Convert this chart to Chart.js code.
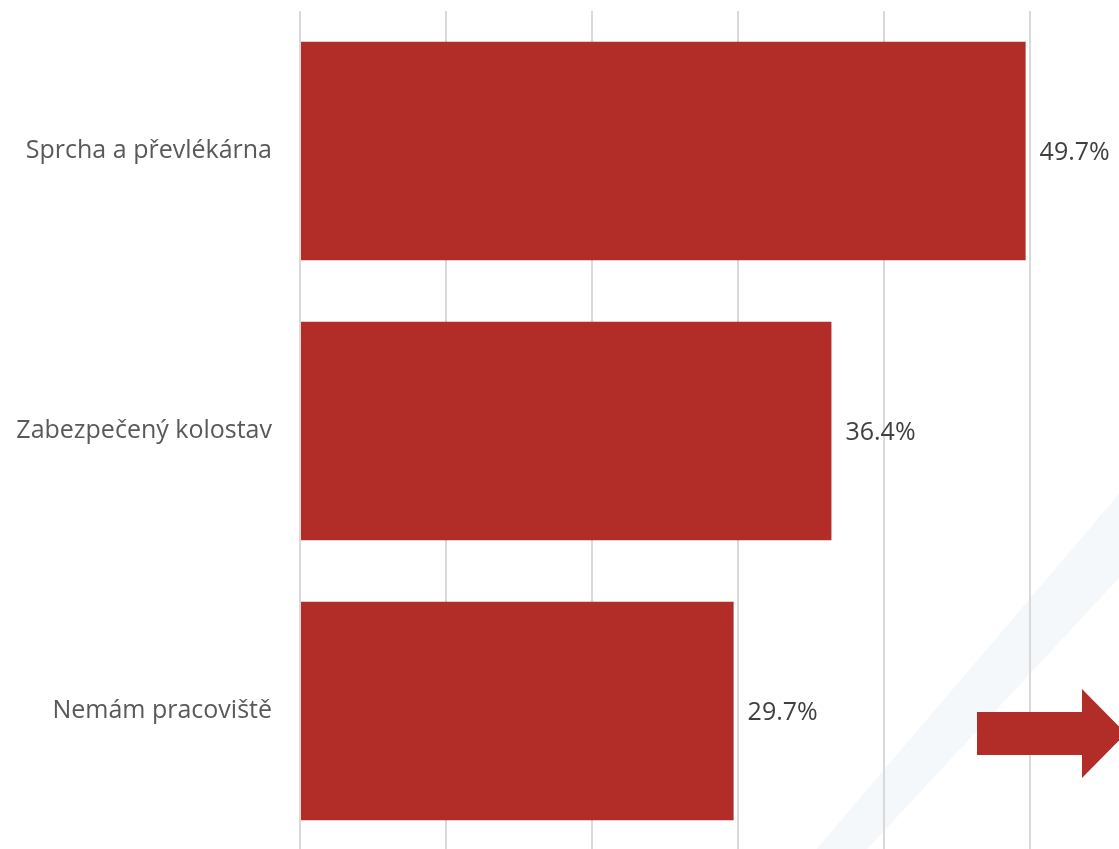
<!DOCTYPE html>
<html>
<head>
<meta charset="utf-8">
<script src="https://cdn.jsdelivr.net/npm/chart.js@4/dist/chart.umd.min.js"></script>
<style>
html,body{margin:0;padding:0;background:#fff;overflow:hidden;}
#wrap{position:relative;width:1119px;height:860px;}
</style>
</head>
<body>
<div id="wrap"><canvas id="c" width="1119" height="860"></canvas></div>
<script>
const categories = ["Sprcha a převlékárna", "Zabezpečený kolostav", "Nemám pracoviště"];
const values = [49.7, 36.4, 29.7];
const valueLabels = ["49.7%", "36.4%", "29.7%"];
const xTicks = [0, 10, 20, 30, 40, 50];

const FONT = "'Open Sans', 'Noto Sans', sans-serif";

const decoBack = {
  id: 'decoBack',
  beforeDraw(chart) {
    const ctx = chart.ctx;
    ctx.save();
    ctx.fillStyle = '#f5f8fb';
    ctx.beginPath();
    ctx.moveTo(807, 860);
    ctx.lineTo(1159, 447);
    ctx.lineTo(1209, 481);
    ctx.lineTo(857, 860);
    ctx.closePath();
    ctx.fill();
    ctx.restore();
  }
};

const decoFront = {
  id: 'decoFront',
  afterDraw(chart) {
    const ctx = chart.ctx;
    ctx.save();
    ctx.fillStyle = '#b32d28';
    ctx.beginPath();
    ctx.moveTo(977, 712);
    ctx.lineTo(1082, 712);
    ctx.lineTo(1082, 689);
    ctx.lineTo(1126, 733.5);
    ctx.lineTo(1082, 778);
    ctx.lineTo(1082, 755);
    ctx.lineTo(977, 755);
    ctx.closePath();
    ctx.fill();
    ctx.restore();
  }
};

const valueLabelPlugin = {
  id: 'valueLabels',
  afterDatasetsDraw(chart) {
    const ctx = chart.ctx;
    const meta = chart.getDatasetMeta(0);
    ctx.save();
    ctx.fillStyle = '#404040';
    ctx.font = '25px ' + FONT;
    ctx.textAlign = 'left';
    ctx.textBaseline = 'middle';
    meta.data.forEach((bar, i) => {
      ctx.fillText(valueLabels[i], bar.x + 14, bar.y + 2);
    });
    ctx.restore();
  }
};

new Chart(document.getElementById('c'), {
  type: 'bar',
  data: {
    labels: categories,
    datasets: [{
      data: values,
      backgroundColor: '#b32d28',
      borderWidth: 0,
      barPercentage: 0.78,
      categoryPercentage: 1.0
    }]
  },
  options: {
    indexAxis: 'y',
    responsive: false,
    animation: false,
    events: [],
    layout: { padding: { left: 0, right: 89, top: 11, bottom: 9 } },
    plugins: { legend: { display: false }, tooltip: { enabled: false } },
    scales: {
      x: {
        min: 0, max: 50,
        afterBuildTicks(scale) { scale.ticks = xTicks.map(v => ({ value: v })); },
        afterFit(scale) { scale.height = 0; scale.paddingLeft = 0; scale.paddingRight = 0; },
        ticks: { display: false },
        border: { display: false },
        grid: { color: '#d9d9d9', lineWidth: 2, drawTicks: false }
      },
      y: {
        afterFit(scale) { scale.width = 300; scale.paddingTop = 0; scale.paddingBottom = 0; },
        border: { display: false },
        grid: { display: false, drawTicks: false },
        ticks: {
          color: '#595959',
          padding: 28,
          font: { family: FONT, size: 25 }
        }
      }
    }
  },
  plugins: [decoBack, valueLabelPlugin, decoFront]
});
</script>
</body>
</html>
